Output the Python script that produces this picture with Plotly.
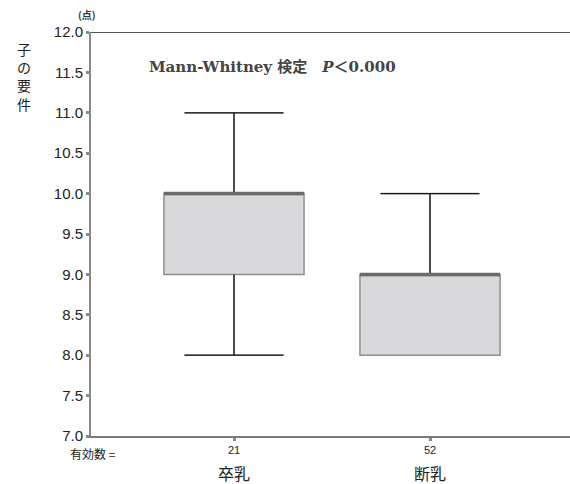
import plotly.graph_objects as go

# Groups and box-plot statistics (points)
groups = ["卒乳", "断乳"]
counts = ["21", "52"]
lower_whisker = [8.0, 8.0]
q1 = [9.0, 8.0]
median = [10.0, 9.0]
q3 = [10.0, 9.0]
upper_whisker = [11.0, 10.0]

positions = list(range(len(groups)))
box_w = 0.715
cap_w = 0.505

PLOT_L, PLOT_T, PLOT_B = 91, 32, 48
W, H = 570, 484
plot_w = W - PLOT_L
plot_h = H - PLOT_T - PLOT_B

def px_x(px):
    return (px - PLOT_L) / plot_w

def px_y(py):
    return (H - PLOT_B - py) / plot_h

fig = go.Figure()

# Boxes
fig.add_trace(go.Box(
    x=positions, q1=q1, median=median, q3=q3,
    lowerfence=lower_whisker, upperfence=upper_whisker,
    width=box_w, whiskerwidth=cap_w / box_w,
    fillcolor="#d9d9dc", line=dict(color="#8f8f8f", width=1.5),
    boxpoints=False, hoverinfo="skip", showlegend=False,
))

# Whiskers and caps in black
wx, wy = [], []
for p, lo, a, b, hi in zip(positions, lower_whisker, q1, q3, upper_whisker):
    if hi > b:
        wx += [p, p, None, p - cap_w / 2, p + cap_w / 2, None]
        wy += [b, hi, None, hi, hi, None]
    if lo < a:
        wx += [p, p, None, p - cap_w / 2, p + cap_w / 2, None]
        wy += [a, lo, None, lo, lo, None]
fig.add_trace(go.Scatter(x=wx, y=wy, mode="lines",
                         line=dict(color="#1a1a1a", width=1.3),
                         hoverinfo="skip", showlegend=False))

# Median bars
mx, my = [], []
for p, m in zip(positions, median):
    mx += [p - box_w / 2, p + box_w / 2, None]
    my += [m, m, None]
fig.add_trace(go.Scatter(x=mx, y=my, mode="lines",
                         line=dict(color="#6b6b6b", width=3.5),
                         hoverinfo="skip", showlegend=False))

x_left = -(234 - PLOT_L) / 196
x_right = (W - 234) / 196

fig.update_layout(
    width=W, height=H,
    margin=dict(l=PLOT_L, r=0, t=PLOT_T, b=PLOT_B),
    paper_bgcolor="white", plot_bgcolor="white",
    font=dict(family="Liberation Sans, Arial, sans-serif", color="#222"),
    xaxis=dict(
        range=[x_left, x_right], tickvals=positions, ticktext=counts,
        showgrid=False, zeroline=False, showline=True,
        linecolor="#7a7a7a", linewidth=2,
        ticks="outside", ticklen=3, tickwidth=3, tickcolor="#8a8a8a",
        tickfont=dict(size=11, color="#222"),
    ),
    yaxis=dict(
        range=[7, 12], dtick=0.5, tick0=7, tickformat=".1f",
        showgrid=False, zeroline=False, showline=True,
        linecolor="#8a8a8a", linewidth=2,
        ticks="outside", ticklen=3, tickwidth=3, tickcolor="#8a8a8a",
        tickfont=dict(size=15, color="#222"),
    ),
    shapes=[dict(type="line", xref="paper", yref="y", x0=0, x1=1, y0=12, y1=12,
                 line=dict(color="#1a1a1a", width=1.5))],
)

ann = []
# vertical axis title, one character per line
ann.append(dict(text="<br>".join("子の要件"), xref="paper", yref="paper",
                x=px_x(24), y=px_y(76), xanchor="center", yanchor="middle",
                showarrow=False, align="center",
                font=dict(family="Noto Sans CJK JP", size=14, color="#222")))
ann.append(dict(text="<b>(点)</b>", xref="paper", yref="paper", x=px_x(87), y=px_y(15),
                xanchor="center", yanchor="middle", showarrow=False,
                font=dict(family="Noto Sans CJK JP", size=10, color="#333")))
ann.append(dict(text="<b>Mann-Whitney 検定　<i>P</i>＜0.000</b>", xref="paper", yref="paper",
                x=px_x(147), y=px_y(67), xanchor="left", yanchor="middle", showarrow=False,
                font=dict(family="DejaVu Serif, Noto Sans CJK JP", size=15, color="#444")))
ann.append(dict(text="有効数 =", xref="paper", yref="paper", x=px_x(68), y=px_y(453),
                xanchor="left", yanchor="middle", showarrow=False,
                font=dict(family="Noto Sans CJK JP", size=12, color="#222")))
for p, g in zip(positions, groups):
    ann.append(dict(text=g, xref="x", yref="paper", x=p, y=px_y(473),
                    xanchor="center", yanchor="middle", showarrow=False,
                    font=dict(family="Noto Sans CJK JP", size=16, color="#222")))
fig.update_layout(annotations=ann)

fig.write_html("out.html")
